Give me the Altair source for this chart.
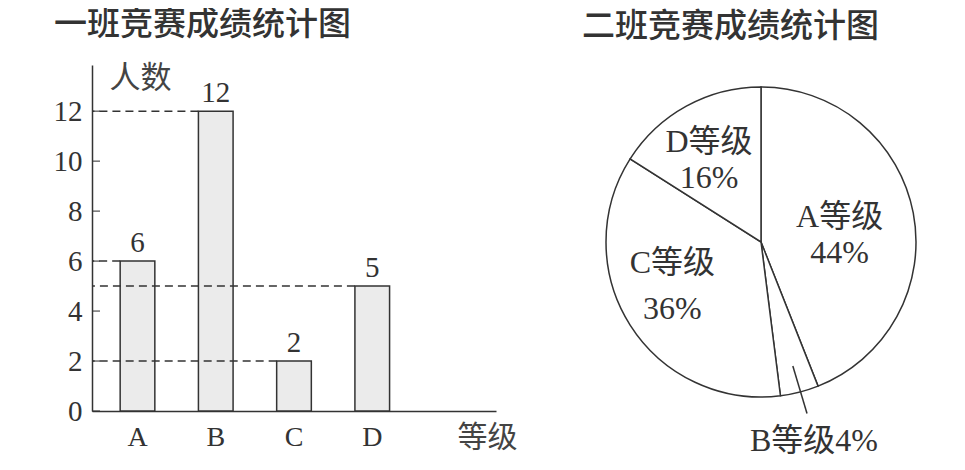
import altair as alt
import pandas as pd

# ---- data ----
grades = ["A", "B", "C", "D"]
class1_counts = [6, 12, 2, 5]
class2_grades = ["A", "B", "C", "D"]
class2_pct = [44, 4, 36, 16]
class2_labels = ["A等级\n44%", "B等级4%", "C等级\n36%", "D等级\n16%"]
y_ticks = [0, 2, 4, 6, 8, 10, 12]
x_domain = grades + [""]

NUM = "Liberation Serif"
SERIF = "Liberation Serif, Noto Sans CJK SC"
CJK = "Noto Sans CJK SC"
INK = "#333333"

bar_df = pd.DataFrame({"grade": grades, "count": class1_counts})
tick_df = pd.DataFrame({"v": y_ticks})
pie_df = pd.DataFrame({"grade": class2_grades, "pct": class2_pct,
                       "label": class2_labels, "order": list(range(len(class2_grades)))})

W, H = 404, 346
x_scale = alt.Scale(domain=x_domain, paddingInner=0.557, paddingOuter=0.36)
y_scale = alt.Scale(domain=[0, 13.85], nice=False, zero=True)

x_axis = alt.Axis(title="等级", labelAngle=0, ticks=False, labelPadding=12,
                  labelFont=NUM, labelFontSize=28, labelColor=INK,
                  domainColor=INK, domainWidth=1.5,
                  titleFont=CJK, titleFontSize=30, titleFontWeight="normal",
                  titleColor="#444444", titleX=395, titleY=26,
                  titleAlign="center", titleBaseline="middle")
y_axis = alt.Axis(values=y_ticks, ticks=False, grid=False,
                  labelFont=NUM, labelFontSize=29, labelColor=INK, labelPadding=10,
                  domainColor=INK, domainWidth=1.5,
                  title="人数", titleAngle=0, titleX=48, titleY=13,
                  titleAlign="center", titleBaseline="middle",
                  titleFont=CJK, titleFontSize=31, titleFontWeight="normal",
                  titleColor="#444444")

X = alt.X("grade:N", scale=x_scale, sort=x_domain, axis=x_axis)
Y = alt.Y("count:Q", scale=y_scale, axis=y_axis)

bars = alt.Chart(bar_df).mark_bar(fill="#ebebeb", stroke=INK, strokeWidth=1.5).encode(x=X, y=Y)

dashes = alt.Chart(bar_df).mark_rule(strokeDash=[8, 5], strokeWidth=1.5, color=INK).encode(
    x=alt.X("grade:N", scale=x_scale, sort=x_domain, bandPosition=0, axis=x_axis),
    x2=alt.value(0),
    y=Y,
)

values = alt.Chart(bar_df).mark_text(font=NUM, fontSize=29, color=INK,
                                     baseline="alphabetic", dy=-9).encode(
    x=X, y=Y, text="count:Q",
)

ticks = alt.Chart(tick_df).mark_tick(orient="horizontal", size=8, thickness=1.5, color=INK).encode(
    y=alt.Y("v:Q", scale=y_scale, axis=y_axis),
    x=alt.value(4),
)

bar_chart = alt.layer(bars, dashes, values, ticks).properties(
    width=W, height=H,
    title=alt.TitleParams("一班竞赛成绩统计图", anchor="start", frame="group", dx=-38,
                          offset=20, font=CJK, fontSize=33, fontWeight=500, color=INK),
)

# ---- pie ----
PW = 354
R = 155
C = PW / 2
base = alt.Chart(pie_df)

arcs = base.mark_arc(outerRadius=R, fill="white", stroke=INK, strokeWidth=1.5).encode(
    theta=alt.Theta("pct:Q", stack=True),
    order=alt.Order("order:Q"),
)

inner = base.transform_calculate(
    t="datum.grade == 'B' ? '' : datum.label"
).mark_text(
    radius=alt.expr("datum.grade == 'A' ? 80 : datum.grade == 'C' ? 105 : 108"),
    dy=alt.expr("datum.grade == 'A' ? -10 : datum.grade == 'C' ? -35 : -5"),
    lineHeight=alt.expr("datum.grade == 'C' ? 46 : 36"),
    font=SERIF, fontSize=32, color=INK, lineBreak="\n",
).encode(
    theta=alt.Theta("pct:Q", stack=True),
    order=alt.Order("order:Q"),
    text="t:N",
)

lead_base = base.transform_window(
    cum="sum(pct)", sort=[alt.SortField("order")]
).transform_calculate(
    mid="(datum.cum - datum.pct / 2) / 100 * 2 * PI"
).transform_filter(
    "datum.grade == 'B'"
).transform_calculate(
    lx1=f"{C} + 128 * sin(datum.mid)",
    ly1=f"{C} - 128 * cos(datum.mid)",
    lx2=f"{C} + 2 + 177 * sin(datum.mid)",
    ly2=f"{C} - 177 * cos(datum.mid)",
)

lead = lead_base.mark_rule(color=INK, strokeWidth=1.5).encode(
    x=alt.X("lx1:Q", scale=None, axis=None),
    y=alt.Y("ly1:Q", scale=None, axis=None),
    x2="lx2:Q",
    y2="ly2:Q",
)

blabel = lead_base.mark_text(font=SERIF, fontSize=32, color=INK, align="center",
                             baseline="middle", dx=7, dy=28).encode(
    x=alt.X("lx2:Q", scale=None, axis=None),
    y=alt.Y("ly2:Q", scale=None, axis=None),
    text="label:N",
)

pie_chart = alt.layer(arcs, inner, lead, blabel).properties(
    width=PW, height=PW,
    title=alt.TitleParams("二班竞赛成绩统计图", anchor="start", frame="group", dx=-2,
                          offset=21, font=CJK, fontSize=33, fontWeight=500, color=INK),
)

chart = alt.hconcat(bar_chart, pie_chart, spacing=65).configure_view(
    stroke=None
).properties(
    padding={"left": 45, "top": 1, "right": 0, "bottom": 0}
)

chart.save("out.html", embed_options={"renderer": "svg", "actions": False})
